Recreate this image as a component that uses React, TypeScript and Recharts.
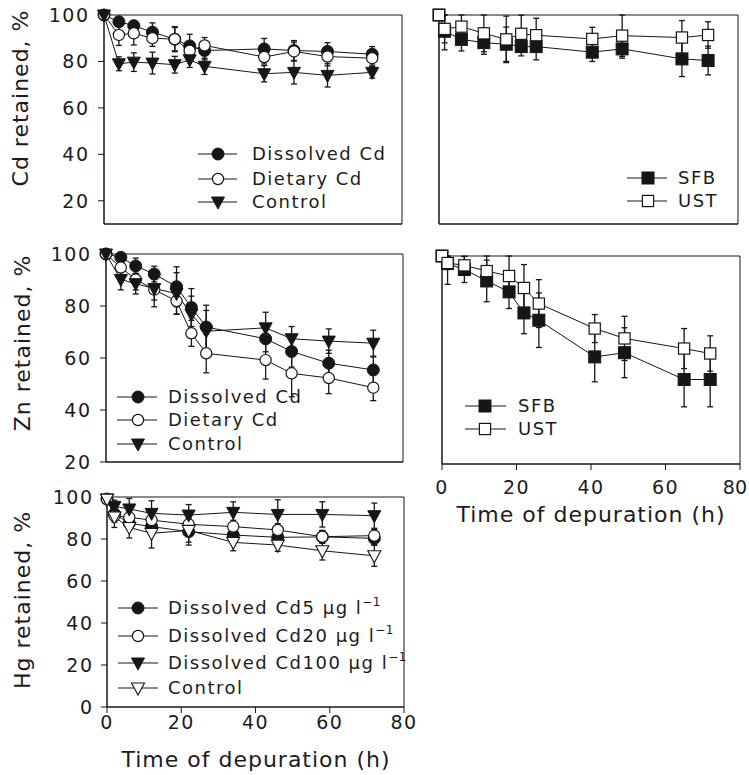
import React from 'react';
import { LineChart, Line, XAxis, YAxis, ErrorBar, Legend, ReferenceArea } from 'recharts';

// ---------------- data ----------------
const cdLeftTimes = [0, 4, 8, 13, 19, 23, 27, 43, 51, 60, 72];
const cdDissolved = [100, 97.1, 95.4, 92.6, 89.6, 86.7, 84.7, 85.4, 84.7, 84.3, 83.1];
const cdDissolvedErr = [0, 2, 2, 4, 5, 5, 4, 4.5, 4.3, 3.8, 3.3];
const cdDietary = [100, 91.4, 92.1, 90, 89.6, 84.6, 86.9, 81.9, 84.3, 82.1, 81.4];
const cdDietaryErr = [0, 4.5, 5, 3.5, 5.4, 3, 3.4, 3, 4, 4, 3];
const cdControl = [100, 79, 79.7, 79.3, 78.6, 80.7, 77.9, 74.7, 75.3, 74, 75.3];
const cdControlErr = [0, 3, 4, 4.7, 3.6, 3.3, 3.5, 3.5, 5, 5, 2.5];

const siteTimes = [0, 1.5, 6, 12, 18, 22, 26, 41, 49, 65, 72];
const cdSFB = [100, 93, 89.5, 88.1, 87.4, 86.4, 86.4, 84, 85.4, 81.1, 80.4];
const cdSFBErr: (number | number[])[] = [0, [8, 7], 5, 5, 7.4, 4, 5.7, 4, 4, 7.6, 6.2];
const cdUST = [100, 94, 95, 92.1, 89.5, 91.9, 91.3, 89.7, 91.1, 90.3, 91.4];
const cdUSTErr = [0, 6, 5, 7.9, 10, 8, 7.3, 5, 8.9, 7.3, 5.7];

const znLeftTimes = [0, 4, 8, 13, 19, 23, 27, 43, 50, 60, 72];
const znDissolved = [100, 98.7, 95.4, 92.3, 87.4, 79.4, 71.9, 67.4, 62.5, 58, 55.4];
const znDissolvedErr = [0, 1.3, 3, 3, 7.7, 7.3, 8.4, 5, 6, 5, 5];
const znDietary = [100, 94.8, 90.2, 86.3, 81.9, 69.5, 61.8, 59.2, 54.1, 52.3, 48.6];
const znDietaryErr = [0, 3, 4, 4, 5, 5, 7.5, 7.3, 9, 6, 5];
const znControl = [100, 90.2, 88.6, 86.7, 84.8, 76.8, 70.3, 71.6, 67.4, 66.5, 65.7];
const znControlErr = [0, 4, 4, 7, 8, 7, 8, 6, 4.7, 4.7, 5];

const znSFB = [100, 97.1, 94.8, 90.4, 86.2, 78.1, 75.3, 61.2, 62.8, 52.5, 52.5];
const znSFBErr: (number | number[])[] = [0, [8, 2.9], 5, 8, 6.4, 8, 10.5, 9.6, 9.6, 10.5, 10.5];
const znUST = [100, 97.3, 96.4, 94.2, 92.3, 87.7, 81.7, 72.1, 68.3, 64.4, 62.5];
const znUSTErr = [0, 2.5, 3.5, 5.8, 7.7, 9, 9.2, 5.4, 8.5, 7.7, 6.8];

const hgTimes = [0, 2, 6, 12, 22, 34, 46, 58, 72];
const hgCd5 = [99, 92, 87.5, 85.9, 83.5, 81.9, 80.8, 81, 80.3];
const hgCd5Err = [0, 3, 3, 3, 5, 3, 3, 3, 3];
const hgCd20 = [99, 91, 90.3, 89, 87, 85.9, 84.3, 81.1, 81.6];
const hgCd20Err = [0, 3, 3, 3, 3, 3, 3, 3, 3];
const hgCd100 = [99, 95.5, 94.3, 92.2, 91.4, 92.7, 91.7, 91.7, 91.1];
const hgCd100Err = [0, 3, 5, 6, 5, 5, 7, 6, 6];
const hgControl = [99, 90.5, 85.5, 82.7, 84.1, 78.4, 77.1, 74.4, 72];
const hgControlErr = [0, 5, 5, 7, 7, 4, 3, 4.4, 5];

const xTicks = [0, 20, 40, 60, 80];
const yTicksCd = [20, 40, 60, 80, 100];
const yTicksZn = [20, 40, 60, 80, 100];
const yTicksHg = [0, 20, 40, 60, 80, 100];

// ---------------- helpers ----------------
function rows(times: number[], cols: Record<string, any[]>) {
  return times.map((t, i) => {
    const r: any = { t };
    Object.keys(cols).forEach((k) => (r[k] = cols[k][i]));
    return r;
  });
}

const FONT = '"DejaVu Sans", "Liberation Sans", Arial, sans-serif';
const INK = '#161616';
const TXT = '#1c1c1c';
const W = 749;
const H = 775;
const XH = 10;
const YW = 10;

type Kind = 'circleFilled' | 'circleOpen' | 'triDown' | 'triDownOpen' | 'square' | 'squareOpen';

function Marker({ cx, cy, kind }: { cx?: number; cy?: number; kind: Kind }) {
  if (cx == null || cy == null || isNaN(cx) || isNaN(cy)) return null;
  switch (kind) {
    case 'circleFilled':
      return <circle cx={cx} cy={cy} r={6} fill={INK} stroke={INK} strokeWidth={1} />;
    case 'circleOpen':
      return <circle cx={cx} cy={cy} r={5.6} fill="#fff" stroke={INK} strokeWidth={1.2} />;
    case 'triDown':
      return (
        <polygon
          points={`${cx - 6.5},${cy - 5} ${cx + 6.5},${cy - 5} ${cx},${cy + 7}`}
          fill={INK}
          stroke={INK}
          strokeWidth={1}
        />
      );
    case 'triDownOpen':
      return (
        <polygon
          points={`${cx - 6.5},${cy - 5} ${cx + 6.5},${cy - 5} ${cx},${cy + 7}`}
          fill="#fff"
          stroke={INK}
          strokeWidth={1.1}
        />
      );
    case 'square':
      return <rect x={cx - 6} y={cy - 6} width={12} height={12} fill={INK} stroke={INK} strokeWidth={1} />;
    case 'squareOpen':
      return <rect x={cx - 5.6} y={cy - 5.6} width={11.2} height={11.2} fill="#fff" stroke={INK} strokeWidth={1.2} />;
  }
  return null;
}

type Series = { key: string; err: string; name: string; kind: Kind; sup?: string };

type PanelProps = {
  plot: { l: number; t: number; r: number; b: number };
  data: any[];
  series: Series[];
  yDomain: [number, number];
  yTicks: number[];
  xLabels: boolean;
  yLabels: boolean;
  xTickMargin: number;
  yTickMargin: number;
  yTitle?: { text: string; x: number; y: number };
  xTitle?: { text: string; x: number; y: number };
  legend: { x0: number; x1: number; mx: number; tx: number; ys: number[] };
};

const TICK_FS = 19;
const tickStyle = { fill: TXT, fontSize: TICK_FS, fontFamily: FONT, letterSpacing: 1.5 };

// x tick label that stays inside the page at the right edge
function XTick(props: any) {
  const { x, y, payload, dy } = props;
  const label = String(payload.value);
  const approxHalf = (label.length * TICK_FS * 0.64 + (label.length - 1) * 1.5) / 2;
  const overflow = x + approxHalf > W - 2;
  return (
    <text
      x={overflow ? W - 2 : x}
      y={y}
      dy="0.71em"
      textAnchor={overflow ? 'end' : 'middle'}
      fill={TXT}
      fontSize={TICK_FS}
      fontFamily={FONT}
      letterSpacing={overflow ? 0 : 1.5}
    >
      {label}
    </text>
  );
}

function Panel(p: PanelProps) {
  const { plot, data, series, yDomain, yTicks, legend } = p;
  const margin = { top: plot.t, left: plot.l - YW, right: W - plot.r, bottom: H - plot.b - XH };
  const lgLeft = legend.x0 - 10;
  const lgTop = legend.ys[0] - 16;
  const lgW = 330;
  const lgH = legend.ys[legend.ys.length - 1] - legend.ys[0] + 32;

  const legendContent = (props: any) => {
    const payload: any[] = props.payload || [];
    return (
      <svg width={lgW} height={lgH} style={{ overflow: 'visible', display: 'block' }}>
        {series.map((s, i) => {
          const entry = payload.find((e: any) => e.dataKey === s.key);
          const label = entry ? entry.value : s.name;
          const y = legend.ys[i] - lgTop;
          return (
            <g key={s.key}>
              <line x1={legend.x0 - lgLeft} x2={legend.x1 - lgLeft} y1={y} y2={y} stroke={INK} strokeWidth={1} />
              <Marker cx={legend.mx - lgLeft} cy={y} kind={s.kind} />
              <text
                x={legend.tx - lgLeft}
                y={y}
                dy="0.36em"
                fill={TXT}
                fontSize={18}
                fontFamily={FONT}
                letterSpacing={1.5}
              >
                {label}
                {s.sup ? (
                  <tspan dy={-8} fontSize={12} letterSpacing={0.5}>
                    {s.sup}
                  </tspan>
                ) : null}
              </text>
            </g>
          );
        })}
      </svg>
    );
  };

  return (
    <div style={{ position: 'absolute', left: 0, top: 0, width: W, height: H }}>
      <LineChart width={W} height={H} data={data} margin={margin}>
        <XAxis
          type="number"
          dataKey="t"
          domain={[0, 80]}
          ticks={xTicks}
          height={XH}
          tickSize={6}
          tickMargin={p.xTickMargin}
          tick={p.xLabels ? <XTick /> : false}
          axisLine={{ stroke: INK, strokeWidth: 1 }}
          tickLine={{ stroke: INK, strokeWidth: 1 }}
          label={
            p.xTitle
              ? {
                  value: p.xTitle.text,
                  content: () => (
                    <text
                      x={p.xTitle!.x}
                      y={p.xTitle!.y}
                      dy="0.36em"
                      textAnchor="middle"
                      fill={TXT}
                      fontSize={22}
                      fontFamily={FONT}
                      letterSpacing={1}
                    >
                      {p.xTitle!.text}
                    </text>
                  ),
                }
              : undefined
          }
        />
        <YAxis
          type="number"
          domain={yDomain}
          ticks={yTicks}
          width={YW}
          tickSize={6}
          tickMargin={p.yTickMargin}
          tick={p.yLabels ? tickStyle : false}
          axisLine={{ stroke: INK, strokeWidth: 1 }}
          tickLine={{ stroke: INK, strokeWidth: 1 }}
          label={
            p.yTitle
              ? {
                  value: p.yTitle.text,
                  content: () => (
                    <text
                      x={p.yTitle!.x}
                      y={p.yTitle!.y}
                      dy="0.36em"
                      textAnchor="middle"
                      transform={`rotate(-90 ${p.yTitle!.x} ${p.yTitle!.y})`}
                      fill={TXT}
                      fontSize={22}
                      fontFamily={FONT}
                      letterSpacing={1}
                    >
                      {p.yTitle!.text}
                    </text>
                  ),
                }
              : undefined
          }
        />
        <ReferenceArea
          x1={0}
          x2={80}
          y1={yDomain[0]}
          y2={yDomain[1]}
          fill="none"
          fillOpacity={0}
          stroke={INK}
          strokeWidth={1}
        />
        <Legend
          layout="vertical"
          align="center"
          verticalAlign="middle"
          content={legendContent}
          wrapperStyle={{ position: 'absolute', left: lgLeft, top: lgTop, width: lgW, height: lgH, margin: 0 }}
        />
        {series.map((s) => (
          <Line
            key={s.key}
            dataKey={s.key}
            name={s.name}
            type="linear"
            stroke={INK}
            strokeWidth={1}
            isAnimationActive={false}
            activeDot={false}
            dot={(dp: any) => <Marker key={`${s.key}-${dp.index}`} cx={dp.cx} cy={dp.cy} kind={s.kind} />}
          >
            <ErrorBar dataKey={s.err} width={3} stroke={INK} strokeWidth={1.3} direction="y" isAnimationActive={false} />
          </Line>
        ))}
      </LineChart>
    </div>
  );
}

const cdLeftData = rows(cdLeftTimes, {
  dis: cdDissolved,
  disE: cdDissolvedErr,
  diet: cdDietary,
  dietE: cdDietaryErr,
  ctl: cdControl,
  ctlE: cdControlErr,
});
const cdSiteData = rows(siteTimes, { sfb: cdSFB, sfbE: cdSFBErr, ust: cdUST, ustE: cdUSTErr });
const znLeftData = rows(znLeftTimes, {
  dis: znDissolved,
  disE: znDissolvedErr,
  diet: znDietary,
  dietE: znDietaryErr,
  ctl: znControl,
  ctlE: znControlErr,
});
const znSiteData = rows(siteTimes, { sfb: znSFB, sfbE: znSFBErr, ust: znUST, ustE: znUSTErr });
const hgData = rows(hgTimes, {
  c5: hgCd5,
  c5E: hgCd5Err,
  c20: hgCd20,
  c20E: hgCd20Err,
  c100: hgCd100,
  c100E: hgCd100Err,
  ctl: hgControl,
  ctlE: hgControlErr,
});

const treatmentSeries: Series[] = [
  { key: 'dis', err: 'disE', name: 'Dissolved Cd', kind: 'circleFilled' },
  { key: 'diet', err: 'dietE', name: 'Dietary Cd', kind: 'circleOpen' },
  { key: 'ctl', err: 'ctlE', name: 'Control', kind: 'triDown' },
];
const siteSeries: Series[] = [
  { key: 'sfb', err: 'sfbE', name: 'SFB', kind: 'square' },
  { key: 'ust', err: 'ustE', name: 'UST', kind: 'squareOpen' },
];
const hgSeries: Series[] = [
  { key: 'c5', err: 'c5E', name: 'Dissolved Cd5 \u03bcg l', sup: '\u22121', kind: 'circleFilled' },
  { key: 'c20', err: 'c20E', name: 'Dissolved Cd20 \u03bcg l', sup: '\u22121', kind: 'circleOpen' },
  { key: 'c100', err: 'c100E', name: 'Dissolved Cd100 \u03bcg l', sup: '\u22121', kind: 'triDown' },
  { key: 'ctl', err: 'ctlE', name: 'Control', kind: 'triDownOpen' },
];

export default function App() {
  return (
    <div style={{ position: 'absolute', left: 0, top: 0, width: W, height: H, background: '#fff', overflow: 'hidden' }}>
      <Panel
        plot={{ l: 104, t: 15, r: 402, b: 224 }}
        data={cdLeftData}
        series={treatmentSeries}
        yDomain={[10, 100]}
        yTicks={yTicksCd}
        xLabels={false}
        yLabels={true}
        xTickMargin={10}
        yTickMargin={8.5}
        yTitle={{ text: 'Cd retained, %', x: 20, y: 98 }}
        legend={{ x0: 198, x1: 237, mx: 218, tx: 252, ys: [154, 179, 202] }}
      />
      <Panel
        plot={{ l: 439, t: 15, r: 738, b: 224 }}
        data={cdSiteData}
        series={siteSeries}
        yDomain={[10, 100]}
        yTicks={yTicksCd}
        xLabels={false}
        yLabels={false}
        xTickMargin={10}
        yTickMargin={8.5}
        legend={{ x0: 627, x1: 667, mx: 648, tx: 678, ys: [178, 201] }}
      />
      <Panel
        plot={{ l: 106, t: 254, r: 403, b: 462 }}
        data={znLeftData}
        series={treatmentSeries}
        yDomain={[20, 100]}
        yTicks={yTicksZn}
        xLabels={false}
        yLabels={true}
        xTickMargin={10}
        yTickMargin={8.5}
        yTitle={{ text: 'Zn retained, %', x: 22, y: 343 }}
        legend={{ x0: 117, x1: 157, mx: 138, tx: 168, ys: [397, 420, 444] }}
      />
      <Panel
        plot={{ l: 442, t: 256, r: 740, b: 464 }}
        data={znSiteData}
        series={siteSeries}
        yDomain={[20, 100]}
        yTicks={yTicksZn}
        xLabels={true}
        yLabels={false}
        xTickMargin={10.5}
        yTickMargin={8.5}
        xTitle={{ text: 'Time of depuration (h)', x: 591, y: 514 }}
        legend={{ x0: 465, x1: 506, mx: 485, tx: 518, ys: [406, 429] }}
      />
      <Panel
        plot={{ l: 107, t: 497, r: 404, b: 707 }}
        data={hgData}
        series={hgSeries}
        yDomain={[0, 100]}
        yTicks={yTicksHg}
        xLabels={true}
        yLabels={true}
        xTickMargin={2.5}
        yTickMargin={7.5}
        yTitle={{ text: 'Hg retained, %', x: 22, y: 600 }}
        xTitle={{ text: 'Time of depuration (h)', x: 256, y: 759 }}
        legend={{ x0: 118, x1: 158, mx: 138, tx: 168, ys: [608, 636, 663, 688] }}
      />
    </div>
  );
}
